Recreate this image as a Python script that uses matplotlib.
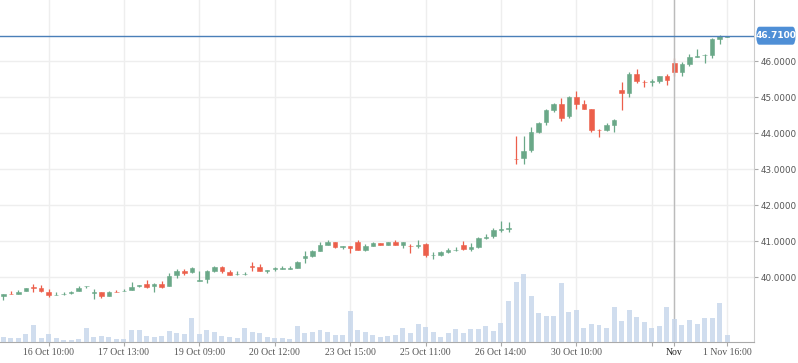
import matplotlib
matplotlib.use("Agg")
import matplotlib.pyplot as plt
from matplotlib.patches import FancyBboxPatch

opens = [39.46, 39.54, 39.52, 39.60, 39.71, 39.70, 39.59, 39.49, 39.52, 39.55,
         39.61, 39.74, 39.56, 39.57, 39.46, 39.59, 39.61, 39.64, 39.75, 39.80,
         39.74, 39.82, 39.74, 40.05, 40.18, 40.13, 39.88, 39.95, 40.18, 40.28,
         40.14, 40.08, 40.08, 40.31, 40.28, 40.16, 40.22, 40.23, 40.23, 40.24,
         40.54, 40.59, 40.73, 40.90, 40.97, 40.84, 40.85, 40.97, 40.75, 40.87,
         40.94, 40.90, 40.97, 40.90, 40.87, 40.87, 40.92, 40.60, 40.62, 40.70,
         40.75, 40.89, 40.79, 40.83, 41.09, 41.15, 41.32, 41.34, 43.29, 43.31,
         43.52, 44.02, 44.30, 44.65, 44.81, 44.49, 45.01, 44.81, 44.67, 44.10,
         44.09, 44.24, 45.19, 45.12, 45.64, 45.43, 45.43, 45.46, 45.59, 45.95,
         45.71, 45.92, 46.12, 46.16, 46.17, 46.61, 46.67]
highs = [39.54, 39.62, 39.65, 39.70, 39.82, 39.79, 39.67, 39.59, 39.57, 39.62,
         39.76, 39.76, 39.68, 39.59, 39.61, 39.63, 39.68, 39.87, 39.79, 39.93,
         39.84, 39.89, 40.11, 40.23, 40.23, 40.28, 40.17, 40.20, 40.31, 40.31,
         40.19, 40.17, 40.15, 40.42, 40.37, 40.20, 40.27, 40.31, 40.31, 40.45,
         40.73, 40.76, 40.97, 41.03, 40.97, 40.86, 40.85, 41.03, 40.91, 40.98,
         40.95, 40.98, 41.04, 40.97, 40.91, 41.03, 40.94, 40.69, 40.72, 40.81,
         40.83, 41.00, 40.96, 41.12, 41.21, 41.35, 41.56, 41.54, 43.93, 43.93,
         44.18, 44.32, 44.68, 44.84, 44.98, 45.04, 45.17, 44.91, 44.67, 44.11,
         44.29, 44.39, 45.42, 45.70, 45.78, 45.47, 45.52, 45.59, 45.64, 46.08,
         45.97, 46.21, 46.33, 46.21, 46.65, 46.74, 46.71]
lows = [39.35, 39.52, 39.52, 39.60, 39.57, 39.57, 39.44, 39.49, 39.49, 39.52,
        39.61, 39.69, 39.40, 39.41, 39.46, 39.57, 39.60, 39.64, 39.72, 39.69,
        39.59, 39.70, 39.74, 39.97, 40.07, 40.11, 39.88, 39.83, 40.14, 40.11,
        40.07, 40.07, 40.07, 40.17, 40.16, 40.10, 40.18, 40.22, 40.22, 40.24,
        40.40, 40.57, 40.73, 40.88, 40.82, 40.79, 40.68, 40.74, 40.71, 40.85,
        40.88, 40.88, 40.89, 40.82, 40.68, 40.81, 40.57, 40.49, 40.58, 40.68,
        40.71, 40.76, 40.72, 40.81, 41.05, 41.09, 41.26, 41.26, 43.14, 43.15,
        43.47, 44.00, 44.24, 44.60, 44.35, 44.43, 44.67, 44.66, 44.02, 43.88,
        44.07, 44.02, 44.65, 45.01, 45.39, 45.28, 45.32, 45.40, 45.34, 45.59,
        45.59, 45.88, 46.11, 45.95, 46.09, 46.48, 46.67]
closes = [39.54, 39.52, 39.59, 39.70, 39.69, 39.60, 39.49, 39.51, 39.54, 39.59,
          39.70, 39.75, 39.57, 39.46, 39.58, 39.57, 39.62, 39.73, 39.76, 39.72,
          39.82, 39.72, 40.04, 40.18, 40.11, 40.26, 39.92, 40.17, 40.28, 40.16,
          40.07, 40.09, 40.09, 40.29, 40.16, 40.19, 40.24, 40.24, 40.24, 40.42,
          40.59, 40.73, 40.89, 40.97, 40.84, 40.85, 40.82, 40.76, 40.85, 40.94,
          40.90, 40.97, 40.90, 40.97, 40.85, 40.88, 40.62, 40.62, 40.69, 40.76,
          40.76, 40.79, 40.84, 41.09, 41.11, 41.31, 41.33, 41.35, 43.27, 43.51,
          44.04, 44.29, 44.65, 44.81, 44.41, 45.01, 44.82, 44.68, 44.09, 44.08,
          44.23, 44.37, 45.12, 45.64, 45.45, 45.41, 45.44, 45.59, 45.48, 45.71,
          45.91, 46.11, 46.15, 46.17, 46.61, 46.69, 46.71]
volumes = [16, 13, 13, 25, 52, 13, 25, 13, 7, 7,
           10, 43, 16, 19, 16, 10, 10, 37, 37, 19,
           16, 19, 34, 28, 25, 73, 25, 37, 31, 19,
           16, 13, 43, 31, 28, 16, 13, 13, 10, 49,
           28, 31, 37, 31, 22, 22, 94, 37, 31, 22,
           16, 19, 22, 43, 28, 55, 46, 31, 16, 28,
           40, 28, 40, 40, 49, 34, 58, 124, 181, 205,
           139, 88, 79, 79, 178, 91, 97, 43, 55, 52,
           43, 106, 64, 97, 76, 61, 43, 49, 106, 70,
           52, 67, 55, 73, 73, 118, 22]

tick_pos = [6, 16, 26, 36, 46, 56, 66, 76, 86, 96]
tick_labels = ["16 Oct 10:00", "17 Oct 13:00", "19 Oct 09:00", "20 Oct 12:00",
               "23 Oct 15:00", "25 Oct 11:00", "26 Oct 14:00", "30 Oct 10:00",
               "", "1 Nov 16:00"]
price_ticks = [40, 41, 42, 43, 44, 45, 46]
cross_idx = 89
cross_label = "Nov"
last_price = 46.71

UP = "#6aa888"
DOWN = "#ec5f4b"

fig = plt.figure(figsize=(7.98, 3.63), dpi=100)
pos = [0.0, 0.0579, 0.9449, 0.9421]
ax = fig.add_axes(pos)
axv = fig.add_axes(pos, sharex=ax)
axv.patch.set_visible(False)
axv.axis("off")

x = list(range(len(opens)))

# volume
axv.bar(x, volumes, width=0.66, color="#c8d7eb", alpha=0.85, linewidth=0)
axv.set_ylim(0, 1027)

# candles
for i in x:
    o, h, l, c = opens[i], highs[i], lows[i], closes[i]
    col = UP if c >= o else DOWN
    ax.vlines(i, l, h, color=col, linewidth=0.9, zorder=3)
    ax.bar(i, max(abs(c - o), 0.015), bottom=min(o, c), width=0.6,
           color=col, edgecolor=col, linewidth=0.4, zorder=4)

ax.set_xlim(-0.44, 99.56)
ax.set_ylim(38.194, 47.703)

ax.yaxis.tick_right()
ax.set_yticks(price_ticks)
ax.set_yticklabels([f"{v:.4f}" for v in price_ticks], fontsize=6.3,
                   color="#555555", family="DejaVu Sans")
ax.tick_params(axis="y", length=3, width=0.8, color="#aaaaaa", pad=1.5)

# x ticks, plus the crosshair label as its own tick
ax.set_xticks(tick_pos + [cross_idx])
ax.set_xticklabels(tick_labels + [cross_label], fontsize=7, color="#555555",
                   family="Liberation Serif")
ax.get_xticklabels()[-1].set_color("#222222")
ax.tick_params(axis="x", length=3, width=0.8, color="#aaaaaa", pad=1.5)

ax.grid(True, color="#eeeeee", linewidth=1, zorder=0)
ax.set_axisbelow(True)

for s in ["top", "left"]:
    ax.spines[s].set_visible(False)
ax.spines["right"].set_color("#cccccc")
ax.spines["bottom"].set_color("#aaaaaa")

# crosshair
ax.axvline(cross_idx, color="#bbbbbb", linewidth=1, zorder=5)
ax.axhline(last_price, color="#4a7fb8", linewidth=1, zorder=5)

# last price marker on the axis
box = FancyBboxPatch((1.003, last_price - 0.25), 0.052, 0.5,
                     boxstyle="round,pad=0,rounding_size=0.004",
                     transform=ax.get_yaxis_transform(), facecolor="#4f8fd6",
                     edgecolor="none", clip_on=False, zorder=6,
                     mutation_aspect=60)
ax.add_patch(box)
ax.text(1.029, last_price, f"{last_price:.4f}",
        transform=ax.get_yaxis_transform(), ha="center", va="center",
        fontsize=6.5, color="white", fontweight="bold", family="DejaVu Sans",
        zorder=7, clip_on=False)

fig.savefig("out.png", dpi=100)
